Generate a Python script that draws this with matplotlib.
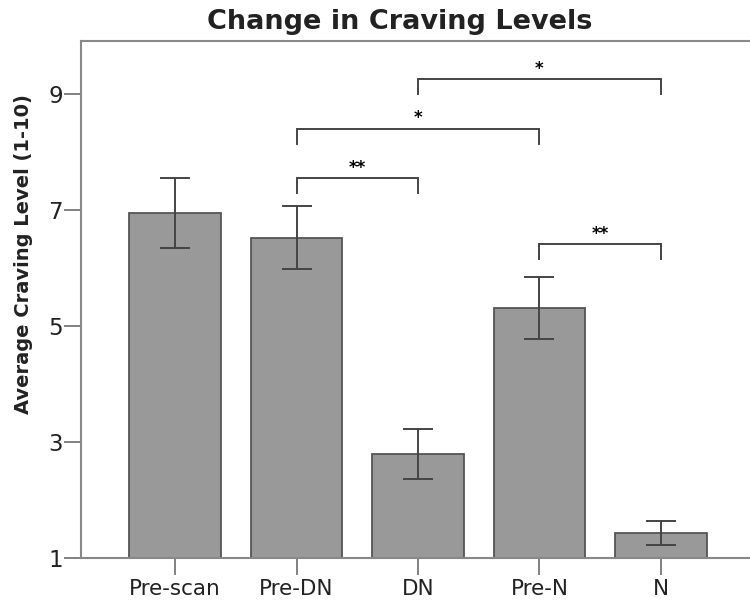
import matplotlib
matplotlib.use("Agg")
import matplotlib.pyplot as plt

categories = ["Pre-scan", "Pre-DN", "DN", "Pre-N", "N"]
means = [6.95, 6.52, 2.79, 5.31, 1.43]
errors = [0.60, 0.54, 0.43, 0.54, 0.20]
yticks = [1, 3, 5, 7, 9]

# significance brackets: (left index, right index, bracket height, label)
brackets = [
    (1, 2, 7.55, "**"),
    (1, 3, 8.40, "*"),
    (2, 4, 9.26, "*"),
    (3, 4, 6.41, "**"),
]

plt.rcParams['font.family'] = ['DejaVu Sans']
fig = plt.figure(figsize=(7.5, 6.09), dpi=100)
ax = fig.add_axes([0.108, 0.0837, 0.892, 0.849])

x = list(range(len(categories)))
bottom = 1
ax.bar(x, [m - bottom for m in means], bottom=bottom, width=0.75,
       color="#999999", edgecolor="#555555", linewidth=1.3, zorder=2)
ax.errorbar(x, means, yerr=errors, fmt="none", ecolor="#444444",
            elinewidth=1.4, capsize=11, capthick=1.4, zorder=3)

drop = 0.26
for l, r, h, lab in brackets:
    ax.plot([x[l], x[l], x[r], x[r]], [h - drop, h, h, h - drop],
            color="#444444", lw=1.4, solid_joinstyle="miter", zorder=3)
    ax.text((x[l] + x[r]) / 2, h + 0.02, lab, ha="center", va="bottom",
            fontsize=12, fontweight="bold", color="black")

ax.set_xlim(-0.774, 4.733)
ax.set_ylim(1, 9.91)
ax.set_yticks(yticks)
ax.set_yticklabels([str(t) for t in yticks])
ax.set_xticks(x)
ax.set_xticklabels(categories)

ax.spines["right"].set_visible(False)
for s in ["left", "bottom", "top"]:
    ax.spines[s].set_color("#888888")
    ax.spines[s].set_linewidth(1.5)

ax.tick_params(axis="both", direction="out", length=12, width=1.3,
               color="#777777", labelcolor="#222222")
ax.tick_params(axis="x", labelsize=15.5, pad=3)
ax.tick_params(axis="y", labelsize=16.5, pad=1)

ax.set_ylabel("Average Craving Level (1-10)", fontsize=14,
              fontweight="bold", color="#222222")
ax.yaxis.set_label_coords(-0.072, 0.588)
fig.text(0.533, 0.964, "Change in Craving Levels", fontsize=19.5,
         fontweight="bold", color="#222222", ha="center", va="center")

fig.savefig("out.png", dpi=100)
